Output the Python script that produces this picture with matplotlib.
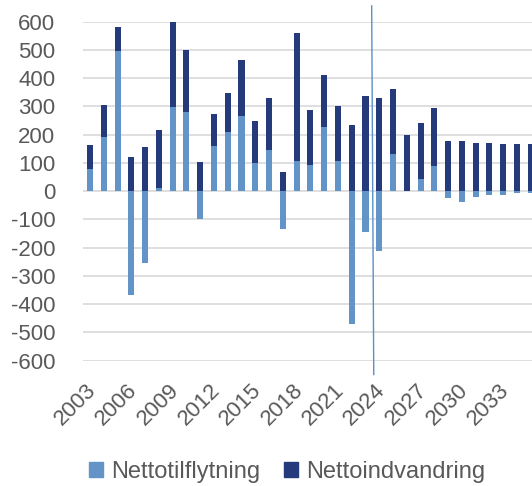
import matplotlib
matplotlib.use("Agg")
import matplotlib.pyplot as plt
import matplotlib.transforms as mtransforms
from matplotlib.patches import Patch

plt.rcParams['font.family'] = ['Liberation Sans', 'DejaVu Sans']

years = list(range(2003, 2036))
nettotilflytning = [80, 193, 497, -367, -255, 10, 299, 281, -99, 159, 209, 267, 99, 145, -135, 106,
                    93, 226, 106, -470, -146, -213, 131, 0, 43, 89, -25, -39, -21, -13, -12, -8, -6]
nettoindvandring = [83, 113, 85, 122, 158, 206, 302, 220, 102, 113, 137, 196, 150, 186, 67, 455,
                    194, 187, 197, 236, 338, 331, 230, 198, 200, 205, 176, 176, 172, 169, 168, 168, 168]
tick_years = list(range(2003, 2036, 3))
yticks = list(range(-600, 601, 100))
split_year = 2023.45

light = '#6394C7'
dark = '#243A7A'
text_col = '#595959'
fs = 16

fig = plt.figure(figsize=(5.32, 4.86), dpi=100)
ax = fig.add_axes([83/532, 1 - 360.7/486, 1 - 83/532, (360.7 - 21.7)/486])

bottoms = [max(v, 0) for v in nettotilflytning]
w = 0.44
ax.bar(years, nettotilflytning, width=w, color=light, zorder=3)
ax.bar(years, nettoindvandring, width=w, bottom=bottoms, color=dark, zorder=3)

ax.set_ylim(-600, 600)
ax.set_xlim(2002.49, 2035.09)
ax.set_yticks(yticks)
ax.set_yticklabels([str(v) for v in yticks])
ax.yaxis.grid(True, color='#D9D9D9', linewidth=1.2, zorder=0)
ax.set_axisbelow(True)
for s in ax.spines.values():
    s.set_visible(False)
ax.tick_params(axis='y', length=0, pad=20, labelsize=fs, labelcolor=text_col)
ax.tick_params(axis='x', length=0, pad=19, labelsize=fs, labelcolor=text_col)
ax.set_xticks(tick_years)
ax.set_xticklabels([str(y) for y in tick_years], rotation=45, ha='right', va='center',
                   rotation_mode='anchor')
offset = mtransforms.ScaledTranslation(3/100, 0, fig.dpi_scale_trans)
for lab in ax.get_xticklabels():
    lab.set_transform(lab.get_transform() + offset)

ax.plot([split_year, split_year + 0.15], [656, -649], color='#5B8FC7', linewidth=1.0,
        clip_on=False, zorder=4)

handles = [Patch(color=light, label='Nettotilflytning'), Patch(color=dark, label='Nettoindvandring')]
fig.legend(handles=handles, loc='center', bbox_to_anchor=(287/532, 1 - 472/486), ncol=2,
           frameon=False, fontsize=17, handlelength=0.6, handleheight=0.6, handletextpad=0.35,
           columnspacing=1.0, labelcolor=text_col)

fig.savefig('out.png', dpi=100)
